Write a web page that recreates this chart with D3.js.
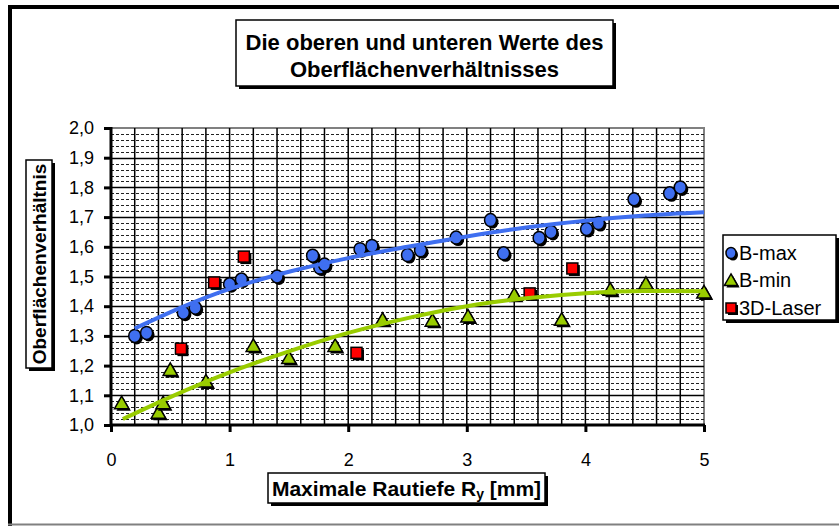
<!DOCTYPE html>
<html>
<head>
<meta charset="utf-8">
<script src="https://cdn.jsdelivr.net/npm/d3@7"></script>
<style>
  html, body { margin: 0; padding: 0; background: #fff; }
  svg { display: block; }
  text { font-family: "Liberation Sans", Arial, sans-serif; fill: #000; }
</style>
</head>
<body>
<svg id="chart" width="839" height="526"></svg>
<script>
// ---------------- data ----------------
const titleLines = ["Die oberen und unteren Werte des", "Oberflächenverhältnisses"];
const xTitleMain = "Maximale Rautiefe R";
const xTitleSub = "y";
const xTitleEnd = " [mm]";
const yTitle = "Oberflächenverhältnis";
const seriesNames = ["B-max", "B-min", "3D-Laser"];

const xTicks = [0, 1, 2, 3, 4, 5];
const yTicks = [1.0, 1.1, 1.2, 1.3, 1.4, 1.5, 1.6, 1.7, 1.8, 1.9, 2.0];

const bmaxX = [0.20, 0.30, 0.61, 0.71, 1.00, 1.10, 1.40, 1.70, 1.76, 1.80, 2.10, 2.20,
               2.50, 2.61, 2.91, 3.20, 3.31, 3.61, 3.71, 4.01, 4.11, 4.41, 4.71, 4.80];
const bmaxY = [1.300, 1.310, 1.378, 1.395, 1.474, 1.490, 1.500, 1.570, 1.530, 1.540, 1.592, 1.603,
               1.572, 1.588, 1.631, 1.690, 1.578, 1.630, 1.650, 1.660, 1.680, 1.760, 1.780, 1.800];

const bminX = [0.09, 0.40, 0.44, 0.50, 0.80, 1.20, 1.50, 1.89, 2.29, 2.71, 3.01, 3.40, 3.80, 4.21, 4.51, 5.00];
const bminY = [1.075, 1.043, 1.075, 1.187, 1.148, 1.268, 1.227, 1.268, 1.356, 1.353, 1.367, 1.440, 1.356, 1.457, 1.477, 1.448];

const laserX = [0.59, 0.87, 1.12, 2.07, 3.53, 3.89];
const laserY = [1.257, 1.480, 1.567, 1.243, 1.443, 1.527];

// trend lines
const trendMaxX = [0.2, 0.6, 1.0, 1.5, 2.0, 2.5, 3.0, 3.5, 4.0, 4.5, 5.0];
const trendMaxY = [1.325, 1.397, 1.458, 1.516, 1.562, 1.600, 1.635, 1.665, 1.688, 1.705, 1.716];
const trendMinX = [0.1, 0.5, 1.0, 1.5, 2.0, 2.5, 3.0, 3.5, 4.0, 4.5, 5.0];
const trendMinY = [1.020, 1.094, 1.177, 1.248, 1.310, 1.360, 1.400, 1.427, 1.444, 1.451, 1.450];

// ---------------- layout ----------------
const svg = d3.select("#chart");
const W = 839, H = 526;
const x = d3.scaleLinear().domain([0, 5]).range([111, 704]);
const y = d3.scaleLinear().domain([1, 2]).range([425, 128]);

const colMax = "#3f6ff0", colMin = "#99cc00", colLaser = "#ff0000";

// outer frame
svg.append("rect").attr("x", 0).attr("y", 0).attr("width", W).attr("height", H).attr("fill", "#fff");
svg.append("rect").attr("x", 8).attr("y", 5).attr("width", 4).attr("height", H - 5).attr("fill", "#000");
svg.append("rect").attr("x", 8).attr("y", 5).attr("width", W - 8).attr("height", 4).attr("fill", "#000");
svg.append("line").attr("x1", 8).attr("x2", W).attr("y1", 524.5).attr("y2", 524.5)
  .attr("stroke", "#808080").attr("stroke-width", 2);

// plot area
const plot = svg.append("g");
plot.append("rect").attr("x", x(0)).attr("y", y(2)).attr("width", x(5) - x(0)).attr("height", y(1) - y(2))
  .attr("fill", "#fff").attr("stroke", "#808080").attr("stroke-width", 2);

// minor horizontal dashed gridlines (every 0.02)
const minorY = d3.range(50, 100, 1).map(v => v / 50).filter((v, i) => (i % 5) !== 0);
plot.append("g").selectAll("line").data(minorY).join("line")
  .attr("x1", x(0)).attr("x2", x(5))
  .attr("y1", d => Math.round(y(d)) + 0.5).attr("y2", d => Math.round(y(d)) + 0.5)
  .attr("stroke", "#222").attr("stroke-width", 1).attr("stroke-dasharray", "3,2");

// major horizontal gridlines
plot.append("g").selectAll("line").data(yTicks.filter(v => v > 1 && v < 2)).join("line")
  .attr("x1", x(0)).attr("x2", x(5))
  .attr("y1", d => Math.round(y(d)) + 0.5).attr("y2", d => Math.round(y(d)) + 0.5)
  .attr("stroke", "#000").attr("stroke-width", 1.3);

// vertical gridlines every 0.2
const vGrid = d3.range(1, 25).map(i => i / 5);
plot.append("g").selectAll("line").data(vGrid).join("line")
  .attr("x1", d => x(d)).attr("x2", d => x(d))
  .attr("y1", y(2)).attr("y2", y(1))
  .attr("stroke", "#000").attr("stroke-width", 1.5);

// axes
const fmtY = d => d3.format(".1f")(d).replace(".", ",");
const yAxis = svg.append("g").attr("transform", `translate(${x(0)},0)`)
  .call(d3.axisLeft(y).tickValues(yTicks).tickFormat(fmtY).tickSize(7).tickPadding(10));
const xAxis = svg.append("g").attr("transform", `translate(0,${y(1)})`)
  .call(d3.axisBottom(x).tickValues(xTicks).tickFormat(d3.format("d")).tickSize(7).tickPadding(21));
[yAxis, xAxis].forEach(a => {
  a.select(".domain").attr("stroke", "#000").attr("stroke-width", 3);
  a.selectAll(".tick line").attr("stroke", "#000").attr("stroke-width", 3);
  a.selectAll(".tick text").attr("font-size", 18).attr("font-family", "Liberation Sans, Arial, sans-serif").attr("fill", "#000");
});
yAxis.select(".domain").attr("d", `M0,${y(2) - 1}V${y(1) + 1}`);
xAxis.select(".domain").attr("d", `M${x(0) - 1},0H${x(5) + 1}`);

// ---------------- markers ----------------
function circleMarker(g, cx, cy, r) {
  g.append("ellipse").attr("cx", cx + 2).attr("cy", cy + 2).attr("rx", r).attr("ry", r + 0.5).attr("fill", "#000");
  g.append("ellipse").attr("cx", cx).attr("cy", cy).attr("rx", r).attr("ry", r + 0.5)
    .attr("fill", colMax).attr("stroke", "#000").attr("stroke-width", 1.5);
}
function triMarker(g, cx, cy, s) {
  const pts = (dx, dy) => `${cx + dx},${cy - s * 0.55 + dy} ${cx + s * 0.6 + dx},${cy + s * 0.5 + dy} ${cx - s * 0.6 + dx},${cy + s * 0.5 + dy}`;
  g.append("polygon").attr("points", pts(2, 2)).attr("fill", "#000");
  g.append("polygon").attr("points", pts(0, 0)).attr("fill", colMin).attr("stroke", "#000").attr("stroke-width", 1.5).attr("stroke-linejoin", "miter");
}
function sqMarker(g, cx, cy, s) {
  g.append("rect").attr("x", cx - s / 2 + 2).attr("y", cy - s / 2 + 2).attr("width", s).attr("height", s).attr("fill", "#000");
  g.append("rect").attr("x", cx - s / 2).attr("y", cy - s / 2).attr("width", s).attr("height", s)
    .attr("fill", colLaser).attr("stroke", "#000").attr("stroke-width", 1.5);
}

const mk = svg.append("g");
bmaxX.forEach((xv, i) => circleMarker(mk, x(xv), y(bmaxY[i]), 6));
bminX.forEach((xv, i) => triMarker(mk, x(xv), y(bminY[i]), 12));
laserX.forEach((xv, i) => sqMarker(mk, x(xv), y(laserY[i]), 11));

// ---------------- trend lines ----------------
const line = d3.line().x(d => x(d[0])).y(d => y(d[1])).curve(d3.curveMonotoneX);
svg.append("path").attr("d", line(trendMaxX.map((xv, i) => [xv, trendMaxY[i]])))
  .attr("fill", "none").attr("stroke", colMax).attr("stroke-width", 4);
svg.append("path").attr("d", line(trendMinX.map((xv, i) => [xv, trendMinY[i]])))
  .attr("fill", "none").attr("stroke", colMin).attr("stroke-width", 4);

// ---------------- title box ----------------
function shadowBox(x0, y0, w, h) {
  svg.append("rect").attr("x", x0 + 3).attr("y", y0 + 3).attr("width", w).attr("height", h).attr("fill", "#000");
  svg.append("rect").attr("x", x0).attr("y", y0).attr("width", w).attr("height", h)
    .attr("fill", "#fff").attr("stroke", "#000").attr("stroke-width", 1.5);
}
shadowBox(236, 20, 377, 66);
svg.append("text").attr("x", 424.5).attr("y", 50).attr("text-anchor", "middle")
  .attr("font-size", 22).attr("font-weight", "bold").text(titleLines[0]);
svg.append("text").attr("x", 424.5).attr("y", 77).attr("text-anchor", "middle")
  .attr("font-size", 22).attr("font-weight", "bold").text(titleLines[1]);

// x title
shadowBox(268, 473, 277, 30);
const xt = svg.append("text").attr("x", 406.5).attr("y", 496).attr("text-anchor", "middle")
  .attr("font-size", 21).attr("font-weight", "bold");
xt.append("tspan").text(xTitleMain);
xt.append("tspan").attr("font-size", 14).attr("dy", 3).text(xTitleSub);
xt.append("tspan").attr("dy", -3).text(xTitleEnd);

// y title
shadowBox(26, 160, 26, 208);
svg.append("text").attr("transform", "translate(46,264) rotate(-90)").attr("text-anchor", "middle")
  .attr("font-size", 19).attr("font-weight", "bold").text(yTitle);

// ---------------- legend ----------------
shadowBox(723, 235, 113, 85);
const legY = [253, 280, 308];
circleMarker(svg, 731, legY[0], 5);
triMarker(svg, 731, legY[1], 11);
sqMarker(svg, 731, legY[2], 10);
seriesNames.forEach((n, i) => {
  svg.append("text").attr("x", 739).attr("y", legY[i] + 7).attr("font-size", 20).text(n);
});
</script>
</body>
</html>
